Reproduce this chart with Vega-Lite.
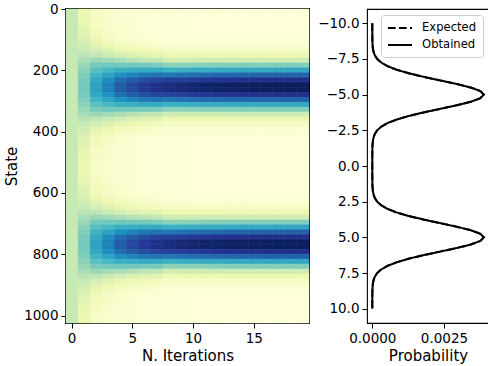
{
"$schema":"https://vega.github.io/schema/vega-lite/v6.json",
"padding":{"left":3,"top":1,"right":0,"bottom":0},
"spacing":6,
"resolve":{"scale":{"strokeDash":"independent","color":"independent","stroke":"independent"},"legend":{"strokeDash":"independent","color":"independent","stroke":"independent"}},
"config":{
"font":"DejaVu Sans",
"view":{"stroke":"#000000","strokeWidth":1.1},
"axis":{"domain":false,"grid":false,"ticks":true,"tickColor":"#000000","tickSize":5,"tickWidth":1,"labelColor":"#000000","labelFontSize":13.5,"labelPadding":3,"labelFlush":false,"labelOverlap":false,"titleColor":"#000000","titleFontSize":15,"titleFontWeight":"normal","titlePadding":4,"labelFont":"DejaVu Sans","titleFont":"DejaVu Sans"}
},
"datasets":{
"heat":[
{"it":0,"s0":0,"s1":1024,"p":0.000977},
{"it":1,"s0":0,"s1":32,"p":0.000503},{"it":1,"s0":32,"s1":64,"p":0.000562},{"it":1,"s0":64,"s1":96,"p":0.000664},
{"it":1,"s0":96,"s1":112,"p":0.000775},{"it":1,"s0":112,"s1":128,"p":0.000864},{"it":1,"s0":128,"s1":144,"p":0.000964},{"it":1,"s0":144,"s1":160,"p":0.001071},{"it":1,"s0":160,"s1":176,"p":0.001181},{"it":1,"s0":176,"s1":192,"p":0.001287},{"it":1,"s0":192,"s1":208,"p":0.001382},{"it":1,"s0":208,"s1":224,"p":0.001461},{"it":1,"s0":224,"s1":240,"p":0.001517},{"it":1,"s0":240,"s1":256,"p":0.001546},
{"it":1,"s0":256,"s1":272,"p":0.001546},{"it":1,"s0":272,"s1":288,"p":0.001517},{"it":1,"s0":288,"s1":304,"p":0.001461},{"it":1,"s0":304,"s1":320,"p":0.001382},{"it":1,"s0":320,"s1":336,"p":0.001287},{"it":1,"s0":336,"s1":352,"p":0.001181},{"it":1,"s0":352,"s1":368,"p":0.001071},{"it":1,"s0":368,"s1":384,"p":0.000964},{"it":1,"s0":384,"s1":400,"p":0.000864},{"it":1,"s0":400,"s1":416,"p":0.000775},
{"it":1,"s0":416,"s1":448,"p":0.000667},{"it":1,"s0":448,"s1":480,"p":0.00057},{"it":1,"s0":480,"s1":512,"p":0.000525},{"it":1,"s0":512,"s1":544,"p":0.000525},{"it":1,"s0":544,"s1":576,"p":0.00057},{"it":1,"s0":576,"s1":608,"p":0.000667},
{"it":1,"s0":608,"s1":624,"p":0.000775},{"it":1,"s0":624,"s1":640,"p":0.000864},{"it":1,"s0":640,"s1":656,"p":0.000964},{"it":1,"s0":656,"s1":672,"p":0.001071},{"it":1,"s0":672,"s1":688,"p":0.001181},{"it":1,"s0":688,"s1":704,"p":0.001287},{"it":1,"s0":704,"s1":720,"p":0.001382},{"it":1,"s0":720,"s1":736,"p":0.001461},{"it":1,"s0":736,"s1":752,"p":0.001517},{"it":1,"s0":752,"s1":768,"p":0.001546},
{"it":1,"s0":768,"s1":784,"p":0.001546},{"it":1,"s0":784,"s1":800,"p":0.001517},{"it":1,"s0":800,"s1":816,"p":0.001461},{"it":1,"s0":816,"s1":832,"p":0.001382},{"it":1,"s0":832,"s1":848,"p":0.001287},{"it":1,"s0":848,"s1":864,"p":0.001181},{"it":1,"s0":864,"s1":880,"p":0.001071},{"it":1,"s0":880,"s1":896,"p":0.000964},{"it":1,"s0":896,"s1":912,"p":0.000864},{"it":1,"s0":912,"s1":928,"p":0.000775},
{"it":1,"s0":928,"s1":960,"p":0.000664},{"it":1,"s0":960,"s1":992,"p":0.000562},{"it":1,"s0":992,"s1":1024,"p":0.000503},
{"it":2,"s0":0,"s1":32,"p":0.000235},{"it":2,"s0":32,"s1":64,"p":0.000271},{"it":2,"s0":64,"s1":96,"p":0.000366},
{"it":2,"s0":96,"s1":112,"p":0.000504},{"it":2,"s0":112,"s1":128,"p":0.000639},{"it":2,"s0":128,"s1":144,"p":0.000813},{"it":2,"s0":144,"s1":160,"p":0.001024},{"it":2,"s0":160,"s1":176,"p":0.001263},{"it":2,"s0":176,"s1":192,"p":0.001515},{"it":2,"s0":192,"s1":208,"p":0.001761},{"it":2,"s0":208,"s1":224,"p":0.001975},{"it":2,"s0":224,"s1":240,"p":0.002134},{"it":2,"s0":240,"s1":256,"p":0.002219},
{"it":2,"s0":256,"s1":272,"p":0.002219},{"it":2,"s0":272,"s1":288,"p":0.002134},{"it":2,"s0":288,"s1":304,"p":0.001975},{"it":2,"s0":304,"s1":320,"p":0.001761},{"it":2,"s0":320,"s1":336,"p":0.001515},{"it":2,"s0":336,"s1":352,"p":0.001263},{"it":2,"s0":352,"s1":368,"p":0.001024},{"it":2,"s0":368,"s1":384,"p":0.000813},{"it":2,"s0":384,"s1":400,"p":0.000639},{"it":2,"s0":400,"s1":416,"p":0.000504},
{"it":2,"s0":416,"s1":448,"p":0.000366},{"it":2,"s0":448,"s1":480,"p":0.000272},{"it":2,"s0":480,"s1":512,"p":0.000239},{"it":2,"s0":512,"s1":544,"p":0.000239},{"it":2,"s0":544,"s1":576,"p":0.000272},{"it":2,"s0":576,"s1":608,"p":0.000366},
{"it":2,"s0":608,"s1":624,"p":0.000504},{"it":2,"s0":624,"s1":640,"p":0.000639},{"it":2,"s0":640,"s1":656,"p":0.000813},{"it":2,"s0":656,"s1":672,"p":0.001024},{"it":2,"s0":672,"s1":688,"p":0.001263},{"it":2,"s0":688,"s1":704,"p":0.001515},{"it":2,"s0":704,"s1":720,"p":0.001761},{"it":2,"s0":720,"s1":736,"p":0.001975},{"it":2,"s0":736,"s1":752,"p":0.002134},{"it":2,"s0":752,"s1":768,"p":0.002219},
{"it":2,"s0":768,"s1":784,"p":0.002219},{"it":2,"s0":784,"s1":800,"p":0.002134},{"it":2,"s0":800,"s1":816,"p":0.001975},{"it":2,"s0":816,"s1":832,"p":0.001761},{"it":2,"s0":832,"s1":848,"p":0.001515},{"it":2,"s0":848,"s1":864,"p":0.001263},{"it":2,"s0":864,"s1":880,"p":0.001024},{"it":2,"s0":880,"s1":896,"p":0.000813},{"it":2,"s0":896,"s1":912,"p":0.000639},{"it":2,"s0":912,"s1":928,"p":0.000504},
{"it":2,"s0":928,"s1":960,"p":0.000366},{"it":2,"s0":960,"s1":992,"p":0.000271},{"it":2,"s0":992,"s1":1024,"p":0.000235},
{"it":3,"s0":0,"s1":32,"p":0.000156},{"it":3,"s0":32,"s1":64,"p":0.000176},{"it":3,"s0":64,"s1":96,"p":0.000245},
{"it":3,"s0":96,"s1":112,"p":0.000367},{"it":3,"s0":112,"s1":128,"p":0.000502},{"it":3,"s0":128,"s1":144,"p":0.000691},{"it":3,"s0":144,"s1":160,"p":0.000937},{"it":3,"s0":160,"s1":176,"p":0.001235},{"it":3,"s0":176,"s1":192,"p":0.001568},{"it":3,"s0":192,"s1":208,"p":0.001908},{"it":3,"s0":208,"s1":224,"p":0.002214},{"it":3,"s0":224,"s1":240,"p":0.002447},{"it":3,"s0":240,"s1":256,"p":0.002574},
{"it":3,"s0":256,"s1":272,"p":0.002574},{"it":3,"s0":272,"s1":288,"p":0.002447},{"it":3,"s0":288,"s1":304,"p":0.002214},{"it":3,"s0":304,"s1":320,"p":0.001908},{"it":3,"s0":320,"s1":336,"p":0.001568},{"it":3,"s0":336,"s1":352,"p":0.001235},{"it":3,"s0":352,"s1":368,"p":0.000937},{"it":3,"s0":368,"s1":384,"p":0.000691},{"it":3,"s0":384,"s1":400,"p":0.000502},{"it":3,"s0":400,"s1":416,"p":0.000367},
{"it":3,"s0":416,"s1":448,"p":0.000245},{"it":3,"s0":448,"s1":480,"p":0.000177},{"it":3,"s0":480,"s1":512,"p":0.000157},{"it":3,"s0":512,"s1":544,"p":0.000157},{"it":3,"s0":544,"s1":576,"p":0.000177},{"it":3,"s0":576,"s1":608,"p":0.000245},
{"it":3,"s0":608,"s1":624,"p":0.000367},{"it":3,"s0":624,"s1":640,"p":0.000502},{"it":3,"s0":640,"s1":656,"p":0.000691},{"it":3,"s0":656,"s1":672,"p":0.000937},{"it":3,"s0":672,"s1":688,"p":0.001235},{"it":3,"s0":688,"s1":704,"p":0.001568},{"it":3,"s0":704,"s1":720,"p":0.001908},{"it":3,"s0":720,"s1":736,"p":0.002214},{"it":3,"s0":736,"s1":752,"p":0.002447},{"it":3,"s0":752,"s1":768,"p":0.002574},
{"it":3,"s0":768,"s1":784,"p":0.002574},{"it":3,"s0":784,"s1":800,"p":0.002447},{"it":3,"s0":800,"s1":816,"p":0.002214},{"it":3,"s0":816,"s1":832,"p":0.001908},{"it":3,"s0":832,"s1":848,"p":0.001568},{"it":3,"s0":848,"s1":864,"p":0.001235},{"it":3,"s0":864,"s1":880,"p":0.000937},{"it":3,"s0":880,"s1":896,"p":0.000691},{"it":3,"s0":896,"s1":912,"p":0.000502},{"it":3,"s0":912,"s1":928,"p":0.000367},
{"it":3,"s0":928,"s1":960,"p":0.000245},{"it":3,"s0":960,"s1":992,"p":0.000176},{"it":3,"s0":992,"s1":1024,"p":0.000156},
{"it":4,"s0":0,"s1":32,"p":0.000102},{"it":4,"s0":32,"s1":64,"p":0.000111},{"it":4,"s0":64,"s1":96,"p":0.000154},
{"it":4,"s0":96,"s1":112,"p":0.000249},{"it":4,"s0":112,"s1":128,"p":0.000368},{"it":4,"s0":128,"s1":144,"p":0.000553},{"it":4,"s0":144,"s1":160,"p":0.000818},{"it":4,"s0":160,"s1":176,"p":0.001164},{"it":4,"s0":176,"s1":192,"p":0.001577},{"it":4,"s0":192,"s1":208,"p":0.002021},{"it":4,"s0":208,"s1":224,"p":0.002438},{"it":4,"s0":224,"s1":240,"p":0.002766},{"it":4,"s0":240,"s1":256,"p":0.002946},
{"it":4,"s0":256,"s1":272,"p":0.002946},{"it":4,"s0":272,"s1":288,"p":0.002766},{"it":4,"s0":288,"s1":304,"p":0.002438},{"it":4,"s0":304,"s1":320,"p":0.002021},{"it":4,"s0":320,"s1":336,"p":0.001577},{"it":4,"s0":336,"s1":352,"p":0.001164},{"it":4,"s0":352,"s1":368,"p":0.000818},{"it":4,"s0":368,"s1":384,"p":0.000553},{"it":4,"s0":384,"s1":400,"p":0.000368},{"it":4,"s0":400,"s1":416,"p":0.000249},
{"it":4,"s0":416,"s1":448,"p":0.000154},{"it":4,"s0":448,"s1":480,"p":0.000111},{"it":4,"s0":480,"s1":512,"p":0.000102},{"it":4,"s0":512,"s1":544,"p":0.000102},{"it":4,"s0":544,"s1":576,"p":0.000111},{"it":4,"s0":576,"s1":608,"p":0.000154},
{"it":4,"s0":608,"s1":624,"p":0.000249},{"it":4,"s0":624,"s1":640,"p":0.000368},{"it":4,"s0":640,"s1":656,"p":0.000553},{"it":4,"s0":656,"s1":672,"p":0.000818},{"it":4,"s0":672,"s1":688,"p":0.001164},{"it":4,"s0":688,"s1":704,"p":0.001577},{"it":4,"s0":704,"s1":720,"p":0.002021},{"it":4,"s0":720,"s1":736,"p":0.002438},{"it":4,"s0":736,"s1":752,"p":0.002766},{"it":4,"s0":752,"s1":768,"p":0.002946},
{"it":4,"s0":768,"s1":784,"p":0.002946},{"it":4,"s0":784,"s1":800,"p":0.002766},{"it":4,"s0":800,"s1":816,"p":0.002438},{"it":4,"s0":816,"s1":832,"p":0.002021},{"it":4,"s0":832,"s1":848,"p":0.001577},{"it":4,"s0":848,"s1":864,"p":0.001164},{"it":4,"s0":864,"s1":880,"p":0.000818},{"it":4,"s0":880,"s1":896,"p":0.000553},{"it":4,"s0":896,"s1":912,"p":0.000368},{"it":4,"s0":912,"s1":928,"p":0.000249},
{"it":4,"s0":928,"s1":960,"p":0.000154},{"it":4,"s0":960,"s1":992,"p":0.000111},{"it":4,"s0":992,"s1":1024,"p":0.000102},
{"it":5,"s0":0,"s1":96,"p":0.00008},
{"it":5,"s0":96,"s1":112,"p":0.000182},{"it":5,"s0":112,"s1":128,"p":0.000288},{"it":5,"s0":128,"s1":144,"p":0.000463},{"it":5,"s0":144,"s1":160,"p":0.00073},{"it":5,"s0":160,"s1":176,"p":0.001098},{"it":5,"s0":176,"s1":192,"p":0.001557},{"it":5,"s0":192,"s1":208,"p":0.002068},{"it":5,"s0":208,"s1":224,"p":0.002563},{"it":5,"s0":224,"s1":240,"p":0.002959},{"it":5,"s0":240,"s1":256,"p":0.003181},
{"it":5,"s0":256,"s1":272,"p":0.003181},{"it":5,"s0":272,"s1":288,"p":0.002959},{"it":5,"s0":288,"s1":304,"p":0.002563},{"it":5,"s0":304,"s1":320,"p":0.002068},{"it":5,"s0":320,"s1":336,"p":0.001557},{"it":5,"s0":336,"s1":352,"p":0.001098},{"it":5,"s0":352,"s1":368,"p":0.00073},{"it":5,"s0":368,"s1":384,"p":0.000463},{"it":5,"s0":384,"s1":400,"p":0.000288},{"it":5,"s0":400,"s1":416,"p":0.000182},
{"it":5,"s0":416,"s1":608,"p":0.00008},
{"it":5,"s0":608,"s1":624,"p":0.000182},{"it":5,"s0":624,"s1":640,"p":0.000288},{"it":5,"s0":640,"s1":656,"p":0.000463},{"it":5,"s0":656,"s1":672,"p":0.00073},{"it":5,"s0":672,"s1":688,"p":0.001098},{"it":5,"s0":688,"s1":704,"p":0.001557},{"it":5,"s0":704,"s1":720,"p":0.002068},{"it":5,"s0":720,"s1":736,"p":0.002563},{"it":5,"s0":736,"s1":752,"p":0.002959},{"it":5,"s0":752,"s1":768,"p":0.003181},
{"it":5,"s0":768,"s1":784,"p":0.003181},{"it":5,"s0":784,"s1":800,"p":0.002959},{"it":5,"s0":800,"s1":816,"p":0.002563},{"it":5,"s0":816,"s1":832,"p":0.002068},{"it":5,"s0":832,"s1":848,"p":0.001557},{"it":5,"s0":848,"s1":864,"p":0.001098},{"it":5,"s0":864,"s1":880,"p":0.00073},{"it":5,"s0":880,"s1":896,"p":0.000463},{"it":5,"s0":896,"s1":912,"p":0.000288},{"it":5,"s0":912,"s1":928,"p":0.000182},
{"it":5,"s0":928,"s1":1024,"p":0.00008},
{"it":6,"s0":0,"s1":96,"p":0.00005},
{"it":6,"s0":96,"s1":112,"p":0.000138},{"it":6,"s0":112,"s1":128,"p":0.000232},{"it":6,"s0":128,"s1":144,"p":0.000397},{"it":6,"s0":144,"s1":160,"p":0.000661},{"it":6,"s0":160,"s1":176,"p":0.001041},{"it":6,"s0":176,"s1":192,"p":0.001534},{"it":6,"s0":192,"s1":208,"p":0.0021},{"it":6,"s0":208,"s1":224,"p":0.002661},{"it":6,"s0":224,"s1":240,"p":0.003118},{"it":6,"s0":240,"s1":256,"p":0.003376},
{"it":6,"s0":256,"s1":272,"p":0.003376},{"it":6,"s0":272,"s1":288,"p":0.003118},{"it":6,"s0":288,"s1":304,"p":0.002661},{"it":6,"s0":304,"s1":320,"p":0.0021},{"it":6,"s0":320,"s1":336,"p":0.001534},{"it":6,"s0":336,"s1":352,"p":0.001041},{"it":6,"s0":352,"s1":368,"p":0.000661},{"it":6,"s0":368,"s1":384,"p":0.000397},{"it":6,"s0":384,"s1":400,"p":0.000232},{"it":6,"s0":400,"s1":416,"p":0.000138},
{"it":6,"s0":416,"s1":608,"p":0.00005},
{"it":6,"s0":608,"s1":624,"p":0.000138},{"it":6,"s0":624,"s1":640,"p":0.000232},{"it":6,"s0":640,"s1":656,"p":0.000397},{"it":6,"s0":656,"s1":672,"p":0.000661},{"it":6,"s0":672,"s1":688,"p":0.001041},{"it":6,"s0":688,"s1":704,"p":0.001534},{"it":6,"s0":704,"s1":720,"p":0.0021},{"it":6,"s0":720,"s1":736,"p":0.002661},{"it":6,"s0":736,"s1":752,"p":0.003118},{"it":6,"s0":752,"s1":768,"p":0.003376},
{"it":6,"s0":768,"s1":784,"p":0.003376},{"it":6,"s0":784,"s1":800,"p":0.003118},{"it":6,"s0":800,"s1":816,"p":0.002661},{"it":6,"s0":816,"s1":832,"p":0.0021},{"it":6,"s0":832,"s1":848,"p":0.001534},{"it":6,"s0":848,"s1":864,"p":0.001041},{"it":6,"s0":864,"s1":880,"p":0.000661},{"it":6,"s0":880,"s1":896,"p":0.000397},{"it":6,"s0":896,"s1":912,"p":0.000232},{"it":6,"s0":912,"s1":928,"p":0.000138},
{"it":6,"s0":928,"s1":1024,"p":0.00005},
{"it":7,"s0":0,"s1":96,"p":0.00004},
{"it":7,"s0":96,"s1":112,"p":0.000114},{"it":7,"s0":112,"s1":128,"p":0.0002},{"it":7,"s0":128,"s1":144,"p":0.000357},{"it":7,"s0":144,"s1":160,"p":0.000616},{"it":7,"s0":160,"s1":176,"p":0.001001},{"it":7,"s0":176,"s1":192,"p":0.001512},{"it":7,"s0":192,"s1":208,"p":0.00211},{"it":7,"s0":208,"s1":224,"p":0.002714},{"it":7,"s0":224,"s1":240,"p":0.00321},{"it":7,"s0":240,"s1":256,"p":0.003493},
{"it":7,"s0":256,"s1":272,"p":0.003493},{"it":7,"s0":272,"s1":288,"p":0.00321},{"it":7,"s0":288,"s1":304,"p":0.002714},{"it":7,"s0":304,"s1":320,"p":0.00211},{"it":7,"s0":320,"s1":336,"p":0.001512},{"it":7,"s0":336,"s1":352,"p":0.001001},{"it":7,"s0":352,"s1":368,"p":0.000616},{"it":7,"s0":368,"s1":384,"p":0.000357},{"it":7,"s0":384,"s1":400,"p":0.0002},{"it":7,"s0":400,"s1":416,"p":0.000114},
{"it":7,"s0":416,"s1":608,"p":0.00004},
{"it":7,"s0":608,"s1":624,"p":0.000114},{"it":7,"s0":624,"s1":640,"p":0.0002},{"it":7,"s0":640,"s1":656,"p":0.000357},{"it":7,"s0":656,"s1":672,"p":0.000616},{"it":7,"s0":672,"s1":688,"p":0.001001},{"it":7,"s0":688,"s1":704,"p":0.001512},{"it":7,"s0":704,"s1":720,"p":0.00211},{"it":7,"s0":720,"s1":736,"p":0.002714},{"it":7,"s0":736,"s1":752,"p":0.00321},{"it":7,"s0":752,"s1":768,"p":0.003493},
{"it":7,"s0":768,"s1":784,"p":0.003493},{"it":7,"s0":784,"s1":800,"p":0.00321},{"it":7,"s0":800,"s1":816,"p":0.002714},{"it":7,"s0":816,"s1":832,"p":0.00211},{"it":7,"s0":832,"s1":848,"p":0.001512},{"it":7,"s0":848,"s1":864,"p":0.001001},{"it":7,"s0":864,"s1":880,"p":0.000616},{"it":7,"s0":880,"s1":896,"p":0.000357},{"it":7,"s0":896,"s1":912,"p":0.0002},{"it":7,"s0":912,"s1":928,"p":0.000114},
{"it":7,"s0":928,"s1":1024,"p":0.00004},
{"it":8,"s0":0,"s1":96,"p":0.00003},
{"it":8,"s0":96,"s1":112,"p":0.000074},{"it":8,"s0":112,"s1":128,"p":0.000136},{"it":8,"s0":128,"s1":144,"p":0.000261},{"it":8,"s0":144,"s1":160,"p":0.000488},{"it":8,"s0":160,"s1":176,"p":0.000852},{"it":8,"s0":176,"s1":192,"p":0.00137},{"it":8,"s0":192,"s1":208,"p":0.00201},{"it":8,"s0":208,"s1":224,"p":0.002684},{"it":8,"s0":224,"s1":240,"p":0.003255},{"it":8,"s0":240,"s1":256,"p":0.003586},
{"it":8,"s0":256,"s1":272,"p":0.003586},{"it":8,"s0":272,"s1":288,"p":0.003255},{"it":8,"s0":288,"s1":304,"p":0.002684},{"it":8,"s0":304,"s1":320,"p":0.00201},{"it":8,"s0":320,"s1":336,"p":0.00137},{"it":8,"s0":336,"s1":352,"p":0.000852},{"it":8,"s0":352,"s1":368,"p":0.000488},{"it":8,"s0":368,"s1":384,"p":0.000261},{"it":8,"s0":384,"s1":400,"p":0.000136},{"it":8,"s0":400,"s1":416,"p":0.000074},
{"it":8,"s0":416,"s1":608,"p":0.00003},
{"it":8,"s0":608,"s1":624,"p":0.000074},{"it":8,"s0":624,"s1":640,"p":0.000136},{"it":8,"s0":640,"s1":656,"p":0.000261},{"it":8,"s0":656,"s1":672,"p":0.000488},{"it":8,"s0":672,"s1":688,"p":0.000852},{"it":8,"s0":688,"s1":704,"p":0.00137},{"it":8,"s0":704,"s1":720,"p":0.00201},{"it":8,"s0":720,"s1":736,"p":0.002684},{"it":8,"s0":736,"s1":752,"p":0.003255},{"it":8,"s0":752,"s1":768,"p":0.003586},
{"it":8,"s0":768,"s1":784,"p":0.003586},{"it":8,"s0":784,"s1":800,"p":0.003255},{"it":8,"s0":800,"s1":816,"p":0.002684},{"it":8,"s0":816,"s1":832,"p":0.00201},{"it":8,"s0":832,"s1":848,"p":0.00137},{"it":8,"s0":848,"s1":864,"p":0.000852},{"it":8,"s0":864,"s1":880,"p":0.000488},{"it":8,"s0":880,"s1":896,"p":0.000261},{"it":8,"s0":896,"s1":912,"p":0.000136},{"it":8,"s0":912,"s1":928,"p":0.000074},
{"it":8,"s0":928,"s1":1024,"p":0.00003},
{"it":9,"s0":0,"s1":96,"p":0.00002},
{"it":9,"s0":96,"s1":112,"p":0.000065},{"it":9,"s0":112,"s1":128,"p":0.000128},{"it":9,"s0":128,"s1":144,"p":0.000256},{"it":9,"s0":144,"s1":160,"p":0.000486},{"it":9,"s0":160,"s1":176,"p":0.000858},{"it":9,"s0":176,"s1":192,"p":0.001386},{"it":9,"s0":192,"s1":208,"p":0.002038},{"it":9,"s0":208,"s1":224,"p":0.002725},{"it":9,"s0":224,"s1":240,"p":0.003308},{"it":9,"s0":240,"s1":256,"p":0.003646},
{"it":9,"s0":256,"s1":272,"p":0.003646},{"it":9,"s0":272,"s1":288,"p":0.003308},{"it":9,"s0":288,"s1":304,"p":0.002725},{"it":9,"s0":304,"s1":320,"p":0.002038},{"it":9,"s0":320,"s1":336,"p":0.001386},{"it":9,"s0":336,"s1":352,"p":0.000858},{"it":9,"s0":352,"s1":368,"p":0.000486},{"it":9,"s0":368,"s1":384,"p":0.000256},{"it":9,"s0":384,"s1":400,"p":0.000128},{"it":9,"s0":400,"s1":416,"p":0.000065},
{"it":9,"s0":416,"s1":608,"p":0.00002},
{"it":9,"s0":608,"s1":624,"p":0.000065},{"it":9,"s0":624,"s1":640,"p":0.000128},{"it":9,"s0":640,"s1":656,"p":0.000256},{"it":9,"s0":656,"s1":672,"p":0.000486},{"it":9,"s0":672,"s1":688,"p":0.000858},{"it":9,"s0":688,"s1":704,"p":0.001386},{"it":9,"s0":704,"s1":720,"p":0.002038},{"it":9,"s0":720,"s1":736,"p":0.002725},{"it":9,"s0":736,"s1":752,"p":0.003308},{"it":9,"s0":752,"s1":768,"p":0.003646},
{"it":9,"s0":768,"s1":784,"p":0.003646},{"it":9,"s0":784,"s1":800,"p":0.003308},{"it":9,"s0":800,"s1":816,"p":0.002725},{"it":9,"s0":816,"s1":832,"p":0.002038},{"it":9,"s0":832,"s1":848,"p":0.001386},{"it":9,"s0":848,"s1":864,"p":0.000858},{"it":9,"s0":864,"s1":880,"p":0.000486},{"it":9,"s0":880,"s1":896,"p":0.000256},{"it":9,"s0":896,"s1":912,"p":0.000128},{"it":9,"s0":912,"s1":928,"p":0.000065},
{"it":9,"s0":928,"s1":1024,"p":0.00002},
{"it":10,"s0":0,"s1":96,"p":0.000015},
{"it":10,"s0":96,"s1":112,"p":0.000061},{"it":10,"s0":112,"s1":128,"p":0.000125},{"it":10,"s0":128,"s1":144,"p":0.000254},{"it":10,"s0":144,"s1":160,"p":0.000489},{"it":10,"s0":160,"s1":176,"p":0.000867},{"it":10,"s0":176,"s1":192,"p":0.001403},{"it":10,"s0":192,"s1":208,"p":0.002066},{"it":10,"s0":208,"s1":224,"p":0.002764},{"it":10,"s0":224,"s1":240,"p":0.003356},{"it":10,"s0":240,"s1":256,"p":0.0037},
{"it":10,"s0":256,"s1":272,"p":0.0037},{"it":10,"s0":272,"s1":288,"p":0.003356},{"it":10,"s0":288,"s1":304,"p":0.002764},{"it":10,"s0":304,"s1":320,"p":0.002066},{"it":10,"s0":320,"s1":336,"p":0.001403},{"it":10,"s0":336,"s1":352,"p":0.000867},{"it":10,"s0":352,"s1":368,"p":0.000489},{"it":10,"s0":368,"s1":384,"p":0.000254},{"it":10,"s0":384,"s1":400,"p":0.000125},{"it":10,"s0":400,"s1":416,"p":0.000061},
{"it":10,"s0":416,"s1":608,"p":0.000015},
{"it":10,"s0":608,"s1":624,"p":0.000061},{"it":10,"s0":624,"s1":640,"p":0.000125},{"it":10,"s0":640,"s1":656,"p":0.000254},{"it":10,"s0":656,"s1":672,"p":0.000489},{"it":10,"s0":672,"s1":688,"p":0.000867},{"it":10,"s0":688,"s1":704,"p":0.001403},{"it":10,"s0":704,"s1":720,"p":0.002066},{"it":10,"s0":720,"s1":736,"p":0.002764},{"it":10,"s0":736,"s1":752,"p":0.003356},{"it":10,"s0":752,"s1":768,"p":0.0037},
{"it":10,"s0":768,"s1":784,"p":0.0037},{"it":10,"s0":784,"s1":800,"p":0.003356},{"it":10,"s0":800,"s1":816,"p":0.002764},{"it":10,"s0":816,"s1":832,"p":0.002066},{"it":10,"s0":832,"s1":848,"p":0.001403},{"it":10,"s0":848,"s1":864,"p":0.000867},{"it":10,"s0":864,"s1":880,"p":0.000489},{"it":10,"s0":880,"s1":896,"p":0.000254},{"it":10,"s0":896,"s1":912,"p":0.000125},{"it":10,"s0":912,"s1":928,"p":0.000061},
{"it":10,"s0":928,"s1":1024,"p":0.000015},
{"it":11,"s0":0,"s1":96,"p":0.00001},
{"it":11,"s0":96,"s1":112,"p":0.000056},{"it":11,"s0":112,"s1":128,"p":0.000121},{"it":11,"s0":128,"s1":144,"p":0.000253},{"it":11,"s0":144,"s1":160,"p":0.00049},{"it":11,"s0":160,"s1":176,"p":0.000873},{"it":11,"s0":176,"s1":192,"p":0.001417},{"it":11,"s0":192,"s1":208,"p":0.002089},{"it":11,"s0":208,"s1":224,"p":0.002796},{"it":11,"s0":224,"s1":240,"p":0.003396},{"it":11,"s0":240,"s1":256,"p":0.003744},
{"it":11,"s0":256,"s1":272,"p":0.003744},{"it":11,"s0":272,"s1":288,"p":0.003396},{"it":11,"s0":288,"s1":304,"p":0.002796},{"it":11,"s0":304,"s1":320,"p":0.002089},{"it":11,"s0":320,"s1":336,"p":0.001417},{"it":11,"s0":336,"s1":352,"p":0.000873},{"it":11,"s0":352,"s1":368,"p":0.00049},{"it":11,"s0":368,"s1":384,"p":0.000253},{"it":11,"s0":384,"s1":400,"p":0.000121},{"it":11,"s0":400,"s1":416,"p":0.000056},
{"it":11,"s0":416,"s1":608,"p":0.00001},
{"it":11,"s0":608,"s1":624,"p":0.000056},{"it":11,"s0":624,"s1":640,"p":0.000121},{"it":11,"s0":640,"s1":656,"p":0.000253},{"it":11,"s0":656,"s1":672,"p":0.00049},{"it":11,"s0":672,"s1":688,"p":0.000873},{"it":11,"s0":688,"s1":704,"p":0.001417},{"it":11,"s0":704,"s1":720,"p":0.002089},{"it":11,"s0":720,"s1":736,"p":0.002796},{"it":11,"s0":736,"s1":752,"p":0.003396},{"it":11,"s0":752,"s1":768,"p":0.003744},
{"it":11,"s0":768,"s1":784,"p":0.003744},{"it":11,"s0":784,"s1":800,"p":0.003396},{"it":11,"s0":800,"s1":816,"p":0.002796},{"it":11,"s0":816,"s1":832,"p":0.002089},{"it":11,"s0":832,"s1":848,"p":0.001417},{"it":11,"s0":848,"s1":864,"p":0.000873},{"it":11,"s0":864,"s1":880,"p":0.00049},{"it":11,"s0":880,"s1":896,"p":0.000253},{"it":11,"s0":896,"s1":912,"p":0.000121},{"it":11,"s0":912,"s1":928,"p":0.000056},
{"it":11,"s0":928,"s1":1024,"p":0.00001},
{"it":12,"s0":0,"s1":96,"p":0.000008},
{"it":12,"s0":96,"s1":112,"p":0.000054},{"it":12,"s0":112,"s1":128,"p":0.00012},{"it":12,"s0":128,"s1":144,"p":0.000253},{"it":12,"s0":144,"s1":160,"p":0.000492},{"it":12,"s0":160,"s1":176,"p":0.000878},{"it":12,"s0":176,"s1":192,"p":0.001426},{"it":12,"s0":192,"s1":208,"p":0.002103},{"it":12,"s0":208,"s1":224,"p":0.002816},{"it":12,"s0":224,"s1":240,"p":0.003421},{"it":12,"s0":240,"s1":256,"p":0.003772},
{"it":12,"s0":256,"s1":272,"p":0.003772},{"it":12,"s0":272,"s1":288,"p":0.003421},{"it":12,"s0":288,"s1":304,"p":0.002816},{"it":12,"s0":304,"s1":320,"p":0.002103},{"it":12,"s0":320,"s1":336,"p":0.001426},{"it":12,"s0":336,"s1":352,"p":0.000878},{"it":12,"s0":352,"s1":368,"p":0.000492},{"it":12,"s0":368,"s1":384,"p":0.000253},{"it":12,"s0":384,"s1":400,"p":0.00012},{"it":12,"s0":400,"s1":416,"p":0.000054},
{"it":12,"s0":416,"s1":608,"p":0.000008},
{"it":12,"s0":608,"s1":624,"p":0.000054},{"it":12,"s0":624,"s1":640,"p":0.00012},{"it":12,"s0":640,"s1":656,"p":0.000253},{"it":12,"s0":656,"s1":672,"p":0.000492},{"it":12,"s0":672,"s1":688,"p":0.000878},{"it":12,"s0":688,"s1":704,"p":0.001426},{"it":12,"s0":704,"s1":720,"p":0.002103},{"it":12,"s0":720,"s1":736,"p":0.002816},{"it":12,"s0":736,"s1":752,"p":0.003421},{"it":12,"s0":752,"s1":768,"p":0.003772},
{"it":12,"s0":768,"s1":784,"p":0.003772},{"it":12,"s0":784,"s1":800,"p":0.003421},{"it":12,"s0":800,"s1":816,"p":0.002816},{"it":12,"s0":816,"s1":832,"p":0.002103},{"it":12,"s0":832,"s1":848,"p":0.001426},{"it":12,"s0":848,"s1":864,"p":0.000878},{"it":12,"s0":864,"s1":880,"p":0.000492},{"it":12,"s0":880,"s1":896,"p":0.000253},{"it":12,"s0":896,"s1":912,"p":0.00012},{"it":12,"s0":912,"s1":928,"p":0.000054},
{"it":12,"s0":928,"s1":1024,"p":0.000008},
{"it":13,"s0":0,"s1":96,"p":0.000006},
{"it":13,"s0":96,"s1":112,"p":0.000053},{"it":13,"s0":112,"s1":128,"p":0.000119},{"it":13,"s0":128,"s1":144,"p":0.000253},{"it":13,"s0":144,"s1":160,"p":0.000494},{"it":13,"s0":160,"s1":176,"p":0.000883},{"it":13,"s0":176,"s1":192,"p":0.001435},{"it":13,"s0":192,"s1":208,"p":0.002118},{"it":13,"s0":208,"s1":224,"p":0.002836},{"it":13,"s0":224,"s1":240,"p":0.003446},{"it":13,"s0":240,"s1":256,"p":0.0038},
{"it":13,"s0":256,"s1":272,"p":0.0038},{"it":13,"s0":272,"s1":288,"p":0.003446},{"it":13,"s0":288,"s1":304,"p":0.002836},{"it":13,"s0":304,"s1":320,"p":0.002118},{"it":13,"s0":320,"s1":336,"p":0.001435},{"it":13,"s0":336,"s1":352,"p":0.000883},{"it":13,"s0":352,"s1":368,"p":0.000494},{"it":13,"s0":368,"s1":384,"p":0.000253},{"it":13,"s0":384,"s1":400,"p":0.000119},{"it":13,"s0":400,"s1":416,"p":0.000053},
{"it":13,"s0":416,"s1":608,"p":0.000006},
{"it":13,"s0":608,"s1":624,"p":0.000053},{"it":13,"s0":624,"s1":640,"p":0.000119},{"it":13,"s0":640,"s1":656,"p":0.000253},{"it":13,"s0":656,"s1":672,"p":0.000494},{"it":13,"s0":672,"s1":688,"p":0.000883},{"it":13,"s0":688,"s1":704,"p":0.001435},{"it":13,"s0":704,"s1":720,"p":0.002118},{"it":13,"s0":720,"s1":736,"p":0.002836},{"it":13,"s0":736,"s1":752,"p":0.003446},{"it":13,"s0":752,"s1":768,"p":0.0038},
{"it":13,"s0":768,"s1":784,"p":0.0038},{"it":13,"s0":784,"s1":800,"p":0.003446},{"it":13,"s0":800,"s1":816,"p":0.002836},{"it":13,"s0":816,"s1":832,"p":0.002118},{"it":13,"s0":832,"s1":848,"p":0.001435},{"it":13,"s0":848,"s1":864,"p":0.000883},{"it":13,"s0":864,"s1":880,"p":0.000494},{"it":13,"s0":880,"s1":896,"p":0.000253},{"it":13,"s0":896,"s1":912,"p":0.000119},{"it":13,"s0":912,"s1":928,"p":0.000053},
{"it":13,"s0":928,"s1":1024,"p":0.000006},
{"it":14,"s0":0,"s1":96,"p":0.000004},
{"it":14,"s0":96,"s1":112,"p":0.000051},{"it":14,"s0":112,"s1":128,"p":0.000117},{"it":14,"s0":128,"s1":144,"p":0.000252},{"it":14,"s0":144,"s1":160,"p":0.000495},{"it":14,"s0":160,"s1":176,"p":0.000885},{"it":14,"s0":176,"s1":192,"p":0.00144},{"it":14,"s0":192,"s1":208,"p":0.002127},{"it":14,"s0":208,"s1":224,"p":0.002849},{"it":14,"s0":224,"s1":240,"p":0.003462},{"it":14,"s0":240,"s1":256,"p":0.003817},
{"it":14,"s0":256,"s1":272,"p":0.003817},{"it":14,"s0":272,"s1":288,"p":0.003462},{"it":14,"s0":288,"s1":304,"p":0.002849},{"it":14,"s0":304,"s1":320,"p":0.002127},{"it":14,"s0":320,"s1":336,"p":0.00144},{"it":14,"s0":336,"s1":352,"p":0.000885},{"it":14,"s0":352,"s1":368,"p":0.000495},{"it":14,"s0":368,"s1":384,"p":0.000252},{"it":14,"s0":384,"s1":400,"p":0.000117},{"it":14,"s0":400,"s1":416,"p":0.000051},
{"it":14,"s0":416,"s1":608,"p":0.000004},
{"it":14,"s0":608,"s1":624,"p":0.000051},{"it":14,"s0":624,"s1":640,"p":0.000117},{"it":14,"s0":640,"s1":656,"p":0.000252},{"it":14,"s0":656,"s1":672,"p":0.000495},{"it":14,"s0":672,"s1":688,"p":0.000885},{"it":14,"s0":688,"s1":704,"p":0.00144},{"it":14,"s0":704,"s1":720,"p":0.002127},{"it":14,"s0":720,"s1":736,"p":0.002849},{"it":14,"s0":736,"s1":752,"p":0.003462},{"it":14,"s0":752,"s1":768,"p":0.003817},
{"it":14,"s0":768,"s1":784,"p":0.003817},{"it":14,"s0":784,"s1":800,"p":0.003462},{"it":14,"s0":800,"s1":816,"p":0.002849},{"it":14,"s0":816,"s1":832,"p":0.002127},{"it":14,"s0":832,"s1":848,"p":0.00144},{"it":14,"s0":848,"s1":864,"p":0.000885},{"it":14,"s0":864,"s1":880,"p":0.000495},{"it":14,"s0":880,"s1":896,"p":0.000252},{"it":14,"s0":896,"s1":912,"p":0.000117},{"it":14,"s0":912,"s1":928,"p":0.000051},
{"it":14,"s0":928,"s1":1024,"p":0.000004},
{"it":15,"s0":0,"s1":96,"p":0.000003},
{"it":15,"s0":96,"s1":112,"p":0.00005},{"it":15,"s0":112,"s1":128,"p":0.000117},{"it":15,"s0":128,"s1":144,"p":0.000251},{"it":15,"s0":144,"s1":160,"p":0.000495},{"it":15,"s0":160,"s1":176,"p":0.000887},{"it":15,"s0":176,"s1":192,"p":0.001443},{"it":15,"s0":192,"s1":208,"p":0.002131},{"it":15,"s0":208,"s1":224,"p":0.002856},{"it":15,"s0":224,"s1":240,"p":0.00347},{"it":15,"s0":240,"s1":256,"p":0.003826},
{"it":15,"s0":256,"s1":272,"p":0.003826},{"it":15,"s0":272,"s1":288,"p":0.00347},{"it":15,"s0":288,"s1":304,"p":0.002856},{"it":15,"s0":304,"s1":320,"p":0.002131},{"it":15,"s0":320,"s1":336,"p":0.001443},{"it":15,"s0":336,"s1":352,"p":0.000887},{"it":15,"s0":352,"s1":368,"p":0.000495},{"it":15,"s0":368,"s1":384,"p":0.000251},{"it":15,"s0":384,"s1":400,"p":0.000117},{"it":15,"s0":400,"s1":416,"p":0.00005},
{"it":15,"s0":416,"s1":608,"p":0.000003},
{"it":15,"s0":608,"s1":624,"p":0.00005},{"it":15,"s0":624,"s1":640,"p":0.000117},{"it":15,"s0":640,"s1":656,"p":0.000251},{"it":15,"s0":656,"s1":672,"p":0.000495},{"it":15,"s0":672,"s1":688,"p":0.000887},{"it":15,"s0":688,"s1":704,"p":0.001443},{"it":15,"s0":704,"s1":720,"p":0.002131},{"it":15,"s0":720,"s1":736,"p":0.002856},{"it":15,"s0":736,"s1":752,"p":0.00347},{"it":15,"s0":752,"s1":768,"p":0.003826},
{"it":15,"s0":768,"s1":784,"p":0.003826},{"it":15,"s0":784,"s1":800,"p":0.00347},{"it":15,"s0":800,"s1":816,"p":0.002856},{"it":15,"s0":816,"s1":832,"p":0.002131},{"it":15,"s0":832,"s1":848,"p":0.001443},{"it":15,"s0":848,"s1":864,"p":0.000887},{"it":15,"s0":864,"s1":880,"p":0.000495},{"it":15,"s0":880,"s1":896,"p":0.000251},{"it":15,"s0":896,"s1":912,"p":0.000117},{"it":15,"s0":912,"s1":928,"p":0.00005},
{"it":15,"s0":928,"s1":1024,"p":0.000003},
{"it":16,"s0":0,"s1":96,"p":0.000002},
{"it":16,"s0":96,"s1":112,"p":0.000049},{"it":16,"s0":112,"s1":128,"p":0.000116},{"it":16,"s0":128,"s1":144,"p":0.000251},{"it":16,"s0":144,"s1":160,"p":0.000495},{"it":16,"s0":160,"s1":176,"p":0.000888},{"it":16,"s0":176,"s1":192,"p":0.001446},{"it":16,"s0":192,"s1":208,"p":0.002136},{"it":16,"s0":208,"s1":224,"p":0.002862},{"it":16,"s0":224,"s1":240,"p":0.003478},{"it":16,"s0":240,"s1":256,"p":0.003835},
{"it":16,"s0":256,"s1":272,"p":0.003835},{"it":16,"s0":272,"s1":288,"p":0.003478},{"it":16,"s0":288,"s1":304,"p":0.002862},{"it":16,"s0":304,"s1":320,"p":0.002136},{"it":16,"s0":320,"s1":336,"p":0.001446},{"it":16,"s0":336,"s1":352,"p":0.000888},{"it":16,"s0":352,"s1":368,"p":0.000495},{"it":16,"s0":368,"s1":384,"p":0.000251},{"it":16,"s0":384,"s1":400,"p":0.000116},{"it":16,"s0":400,"s1":416,"p":0.000049},
{"it":16,"s0":416,"s1":608,"p":0.000002},
{"it":16,"s0":608,"s1":624,"p":0.000049},{"it":16,"s0":624,"s1":640,"p":0.000116},{"it":16,"s0":640,"s1":656,"p":0.000251},{"it":16,"s0":656,"s1":672,"p":0.000495},{"it":16,"s0":672,"s1":688,"p":0.000888},{"it":16,"s0":688,"s1":704,"p":0.001446},{"it":16,"s0":704,"s1":720,"p":0.002136},{"it":16,"s0":720,"s1":736,"p":0.002862},{"it":16,"s0":736,"s1":752,"p":0.003478},{"it":16,"s0":752,"s1":768,"p":0.003835},
{"it":16,"s0":768,"s1":784,"p":0.003835},{"it":16,"s0":784,"s1":800,"p":0.003478},{"it":16,"s0":800,"s1":816,"p":0.002862},{"it":16,"s0":816,"s1":832,"p":0.002136},{"it":16,"s0":832,"s1":848,"p":0.001446},{"it":16,"s0":848,"s1":864,"p":0.000888},{"it":16,"s0":864,"s1":880,"p":0.000495},{"it":16,"s0":880,"s1":896,"p":0.000251},{"it":16,"s0":896,"s1":912,"p":0.000116},{"it":16,"s0":912,"s1":928,"p":0.000049},
{"it":16,"s0":928,"s1":1024,"p":0.000002},
{"it":17,"s0":0,"s1":96,"p":0.000001},
{"it":17,"s0":96,"s1":112,"p":0.000048},{"it":17,"s0":112,"s1":128,"p":0.000115},{"it":17,"s0":128,"s1":144,"p":0.000251},{"it":17,"s0":144,"s1":160,"p":0.000495},{"it":17,"s0":160,"s1":176,"p":0.000889},{"it":17,"s0":176,"s1":192,"p":0.001448},{"it":17,"s0":192,"s1":208,"p":0.002139},{"it":17,"s0":208,"s1":224,"p":0.002867},{"it":17,"s0":224,"s1":240,"p":0.003484},{"it":17,"s0":240,"s1":256,"p":0.003842},
{"it":17,"s0":256,"s1":272,"p":0.003842},{"it":17,"s0":272,"s1":288,"p":0.003484},{"it":17,"s0":288,"s1":304,"p":0.002867},{"it":17,"s0":304,"s1":320,"p":0.002139},{"it":17,"s0":320,"s1":336,"p":0.001448},{"it":17,"s0":336,"s1":352,"p":0.000889},{"it":17,"s0":352,"s1":368,"p":0.000495},{"it":17,"s0":368,"s1":384,"p":0.000251},{"it":17,"s0":384,"s1":400,"p":0.000115},{"it":17,"s0":400,"s1":416,"p":0.000048},
{"it":17,"s0":416,"s1":608,"p":0.000001},
{"it":17,"s0":608,"s1":624,"p":0.000048},{"it":17,"s0":624,"s1":640,"p":0.000115},{"it":17,"s0":640,"s1":656,"p":0.000251},{"it":17,"s0":656,"s1":672,"p":0.000495},{"it":17,"s0":672,"s1":688,"p":0.000889},{"it":17,"s0":688,"s1":704,"p":0.001448},{"it":17,"s0":704,"s1":720,"p":0.002139},{"it":17,"s0":720,"s1":736,"p":0.002867},{"it":17,"s0":736,"s1":752,"p":0.003484},{"it":17,"s0":752,"s1":768,"p":0.003842},
{"it":17,"s0":768,"s1":784,"p":0.003842},{"it":17,"s0":784,"s1":800,"p":0.003484},{"it":17,"s0":800,"s1":816,"p":0.002867},{"it":17,"s0":816,"s1":832,"p":0.002139},{"it":17,"s0":832,"s1":848,"p":0.001448},{"it":17,"s0":848,"s1":864,"p":0.000889},{"it":17,"s0":864,"s1":880,"p":0.000495},{"it":17,"s0":880,"s1":896,"p":0.000251},{"it":17,"s0":896,"s1":912,"p":0.000115},{"it":17,"s0":912,"s1":928,"p":0.000048},
{"it":17,"s0":928,"s1":1024,"p":0.000001},
{"it":18,"s0":0,"s1":96,"p":0.0000005},
{"it":18,"s0":96,"s1":112,"p":0.000048},{"it":18,"s0":112,"s1":128,"p":0.000114},{"it":18,"s0":128,"s1":144,"p":0.00025},{"it":18,"s0":144,"s1":160,"p":0.000495},{"it":18,"s0":160,"s1":176,"p":0.000889},{"it":18,"s0":176,"s1":192,"p":0.001449},{"it":18,"s0":192,"s1":208,"p":0.002141},{"it":18,"s0":208,"s1":224,"p":0.00287},{"it":18,"s0":224,"s1":240,"p":0.003487},{"it":18,"s0":240,"s1":256,"p":0.003846},
{"it":18,"s0":256,"s1":272,"p":0.003846},{"it":18,"s0":272,"s1":288,"p":0.003487},{"it":18,"s0":288,"s1":304,"p":0.00287},{"it":18,"s0":304,"s1":320,"p":0.002141},{"it":18,"s0":320,"s1":336,"p":0.001449},{"it":18,"s0":336,"s1":352,"p":0.000889},{"it":18,"s0":352,"s1":368,"p":0.000495},{"it":18,"s0":368,"s1":384,"p":0.00025},{"it":18,"s0":384,"s1":400,"p":0.000114},{"it":18,"s0":400,"s1":416,"p":0.000048},
{"it":18,"s0":416,"s1":608,"p":0.0000005},
{"it":18,"s0":608,"s1":624,"p":0.000048},{"it":18,"s0":624,"s1":640,"p":0.000114},{"it":18,"s0":640,"s1":656,"p":0.00025},{"it":18,"s0":656,"s1":672,"p":0.000495},{"it":18,"s0":672,"s1":688,"p":0.000889},{"it":18,"s0":688,"s1":704,"p":0.001449},{"it":18,"s0":704,"s1":720,"p":0.002141},{"it":18,"s0":720,"s1":736,"p":0.00287},{"it":18,"s0":736,"s1":752,"p":0.003487},{"it":18,"s0":752,"s1":768,"p":0.003846},
{"it":18,"s0":768,"s1":784,"p":0.003846},{"it":18,"s0":784,"s1":800,"p":0.003487},{"it":18,"s0":800,"s1":816,"p":0.00287},{"it":18,"s0":816,"s1":832,"p":0.002141},{"it":18,"s0":832,"s1":848,"p":0.001449},{"it":18,"s0":848,"s1":864,"p":0.000889},{"it":18,"s0":864,"s1":880,"p":0.000495},{"it":18,"s0":880,"s1":896,"p":0.00025},{"it":18,"s0":896,"s1":912,"p":0.000114},{"it":18,"s0":912,"s1":928,"p":0.000048},
{"it":18,"s0":928,"s1":1024,"p":0.0000005},
{"it":19,"s0":0,"s1":96,"p":0.0000003},
{"it":19,"s0":96,"s1":112,"p":0.000048},{"it":19,"s0":112,"s1":128,"p":0.000115},{"it":19,"s0":128,"s1":144,"p":0.00025},{"it":19,"s0":144,"s1":160,"p":0.000495},{"it":19,"s0":160,"s1":176,"p":0.000889},{"it":19,"s0":176,"s1":192,"p":0.00145},{"it":19,"s0":192,"s1":208,"p":0.002142},{"it":19,"s0":208,"s1":224,"p":0.002872},{"it":19,"s0":224,"s1":240,"p":0.00349},{"it":19,"s0":240,"s1":256,"p":0.003849},
{"it":19,"s0":256,"s1":272,"p":0.003849},{"it":19,"s0":272,"s1":288,"p":0.00349},{"it":19,"s0":288,"s1":304,"p":0.002872},{"it":19,"s0":304,"s1":320,"p":0.002142},{"it":19,"s0":320,"s1":336,"p":0.00145},{"it":19,"s0":336,"s1":352,"p":0.000889},{"it":19,"s0":352,"s1":368,"p":0.000495},{"it":19,"s0":368,"s1":384,"p":0.00025},{"it":19,"s0":384,"s1":400,"p":0.000115},{"it":19,"s0":400,"s1":416,"p":0.000048},
{"it":19,"s0":416,"s1":608,"p":0.0000003},
{"it":19,"s0":608,"s1":624,"p":0.000048},{"it":19,"s0":624,"s1":640,"p":0.000115},{"it":19,"s0":640,"s1":656,"p":0.00025},{"it":19,"s0":656,"s1":672,"p":0.000495},{"it":19,"s0":672,"s1":688,"p":0.000889},{"it":19,"s0":688,"s1":704,"p":0.00145},{"it":19,"s0":704,"s1":720,"p":0.002142},{"it":19,"s0":720,"s1":736,"p":0.002872},{"it":19,"s0":736,"s1":752,"p":0.00349},{"it":19,"s0":752,"s1":768,"p":0.003849},
{"it":19,"s0":768,"s1":784,"p":0.003849},{"it":19,"s0":784,"s1":800,"p":0.00349},{"it":19,"s0":800,"s1":816,"p":0.002872},{"it":19,"s0":816,"s1":832,"p":0.002142},{"it":19,"s0":832,"s1":848,"p":0.00145},{"it":19,"s0":848,"s1":864,"p":0.000889},{"it":19,"s0":864,"s1":880,"p":0.000495},{"it":19,"s0":880,"s1":896,"p":0.00025},{"it":19,"s0":896,"s1":912,"p":0.000115},{"it":19,"s0":912,"s1":928,"p":0.000048},
{"it":19,"s0":928,"s1":1024,"p":0.0000003}
],
"curve":[
{"s":"Expected","x":-10,"p":0},{"s":"Expected","x":-9.5,"p":0.0000002},{"s":"Expected","x":-9,"p":0.0000013},{"s":"Expected","x":-8.75,"p":0.0000034},{"s":"Expected","x":-8.5,"p":0.0000086},{"s":"Expected","x":-8.25,"p":0.0000198},{"s":"Expected","x":-8,"p":0.0000432},{"s":"Expected","x":-7.75,"p":0.0000887},{"s":"Expected","x":-7.5,"p":0.000171},{"s":"Expected","x":-7.25,"p":0.00031},{"s":"Expected","x":-7,"p":0.000526},{"s":"Expected","x":-6.75,"p":0.000841},{"s":"Expected","x":-6.5,"p":0.001263},{"s":"Expected","x":-6.25,"p":0.001781},{"s":"Expected","x":-6,"p":0.002359},{"s":"Expected","x":-5.75,"p":0.002936},{"s":"Expected","x":-5.5,"p":0.003433},{"s":"Expected","x":-5.25,"p":0.00377},{"s":"Expected","x":-5,"p":0.00389},{"s":"Expected","x":-4.75,"p":0.00377},{"s":"Expected","x":-4.5,"p":0.003433},{"s":"Expected","x":-4.25,"p":0.002936},{"s":"Expected","x":-4,"p":0.002359},{"s":"Expected","x":-3.75,"p":0.001781},{"s":"Expected","x":-3.5,"p":0.001263},{"s":"Expected","x":-3.25,"p":0.000841},{"s":"Expected","x":-3,"p":0.000526},{"s":"Expected","x":-2.75,"p":0.00031},{"s":"Expected","x":-2.5,"p":0.000171},{"s":"Expected","x":-2.25,"p":0.0000887},{"s":"Expected","x":-2,"p":0.0000432},{"s":"Expected","x":-1.75,"p":0.0000198},{"s":"Expected","x":-1.5,"p":0.0000086},{"s":"Expected","x":-1.25,"p":0.0000034},{"s":"Expected","x":-1,"p":0.0000013},{"s":"Expected","x":-0.5,"p":0.0000002},{"s":"Expected","x":0,"p":0},
{"s":"Expected","x":0.5,"p":0.0000002},{"s":"Expected","x":1,"p":0.0000013},{"s":"Expected","x":1.25,"p":0.0000034},{"s":"Expected","x":1.5,"p":0.0000086},{"s":"Expected","x":1.75,"p":0.0000198},{"s":"Expected","x":2,"p":0.0000432},{"s":"Expected","x":2.25,"p":0.0000887},{"s":"Expected","x":2.5,"p":0.000171},{"s":"Expected","x":2.75,"p":0.00031},{"s":"Expected","x":3,"p":0.000526},{"s":"Expected","x":3.25,"p":0.000841},{"s":"Expected","x":3.5,"p":0.001263},{"s":"Expected","x":3.75,"p":0.001781},{"s":"Expected","x":4,"p":0.002359},{"s":"Expected","x":4.25,"p":0.002936},{"s":"Expected","x":4.5,"p":0.003433},{"s":"Expected","x":4.75,"p":0.00377},{"s":"Expected","x":5,"p":0.00389},{"s":"Expected","x":5.25,"p":0.00377},{"s":"Expected","x":5.5,"p":0.003433},{"s":"Expected","x":5.75,"p":0.002936},{"s":"Expected","x":6,"p":0.002359},{"s":"Expected","x":6.25,"p":0.001781},{"s":"Expected","x":6.5,"p":0.001263},{"s":"Expected","x":6.75,"p":0.000841},{"s":"Expected","x":7,"p":0.000526},{"s":"Expected","x":7.25,"p":0.00031},{"s":"Expected","x":7.5,"p":0.000171},{"s":"Expected","x":7.75,"p":0.0000887},{"s":"Expected","x":8,"p":0.0000432},{"s":"Expected","x":8.25,"p":0.0000198},{"s":"Expected","x":8.5,"p":0.0000086},{"s":"Expected","x":8.75,"p":0.0000034},{"s":"Expected","x":9,"p":0.0000013},{"s":"Expected","x":9.5,"p":0.0000002},{"s":"Expected","x":10,"p":0},
{"s":"Obtained","x":-10,"p":0},{"s":"Obtained","x":-9.5,"p":0.0000002},{"s":"Obtained","x":-9,"p":0.0000013},{"s":"Obtained","x":-8.75,"p":0.0000034},{"s":"Obtained","x":-8.5,"p":0.0000086},{"s":"Obtained","x":-8.25,"p":0.0000198},{"s":"Obtained","x":-8,"p":0.0000432},{"s":"Obtained","x":-7.75,"p":0.0000887},{"s":"Obtained","x":-7.5,"p":0.000171},{"s":"Obtained","x":-7.25,"p":0.00031},{"s":"Obtained","x":-7,"p":0.000526},{"s":"Obtained","x":-6.75,"p":0.000841},{"s":"Obtained","x":-6.5,"p":0.001263},{"s":"Obtained","x":-6.25,"p":0.001781},{"s":"Obtained","x":-6,"p":0.002359},{"s":"Obtained","x":-5.75,"p":0.002936},{"s":"Obtained","x":-5.5,"p":0.003433},{"s":"Obtained","x":-5.25,"p":0.00377},{"s":"Obtained","x":-5,"p":0.00389},{"s":"Obtained","x":-4.75,"p":0.00377},{"s":"Obtained","x":-4.5,"p":0.003433},{"s":"Obtained","x":-4.25,"p":0.002936},{"s":"Obtained","x":-4,"p":0.002359},{"s":"Obtained","x":-3.75,"p":0.001781},{"s":"Obtained","x":-3.5,"p":0.001263},{"s":"Obtained","x":-3.25,"p":0.000841},{"s":"Obtained","x":-3,"p":0.000526},{"s":"Obtained","x":-2.75,"p":0.00031},{"s":"Obtained","x":-2.5,"p":0.000171},{"s":"Obtained","x":-2.25,"p":0.0000887},{"s":"Obtained","x":-2,"p":0.0000432},{"s":"Obtained","x":-1.75,"p":0.0000198},{"s":"Obtained","x":-1.5,"p":0.0000086},{"s":"Obtained","x":-1.25,"p":0.0000034},{"s":"Obtained","x":-1,"p":0.0000013},{"s":"Obtained","x":-0.5,"p":0.0000002},{"s":"Obtained","x":0,"p":0},
{"s":"Obtained","x":0.5,"p":0.0000002},{"s":"Obtained","x":1,"p":0.0000013},{"s":"Obtained","x":1.25,"p":0.0000034},{"s":"Obtained","x":1.5,"p":0.0000086},{"s":"Obtained","x":1.75,"p":0.0000198},{"s":"Obtained","x":2,"p":0.0000432},{"s":"Obtained","x":2.25,"p":0.0000887},{"s":"Obtained","x":2.5,"p":0.000171},{"s":"Obtained","x":2.75,"p":0.00031},{"s":"Obtained","x":3,"p":0.000526},{"s":"Obtained","x":3.25,"p":0.000841},{"s":"Obtained","x":3.5,"p":0.001263},{"s":"Obtained","x":3.75,"p":0.001781},{"s":"Obtained","x":4,"p":0.002359},{"s":"Obtained","x":4.25,"p":0.002936},{"s":"Obtained","x":4.5,"p":0.003433},{"s":"Obtained","x":4.75,"p":0.00377},{"s":"Obtained","x":5,"p":0.00389},{"s":"Obtained","x":5.25,"p":0.00377},{"s":"Obtained","x":5.5,"p":0.003433},{"s":"Obtained","x":5.75,"p":0.002936},{"s":"Obtained","x":6,"p":0.002359},{"s":"Obtained","x":6.25,"p":0.001781},{"s":"Obtained","x":6.5,"p":0.001263},{"s":"Obtained","x":6.75,"p":0.000841},{"s":"Obtained","x":7,"p":0.000526},{"s":"Obtained","x":7.25,"p":0.00031},{"s":"Obtained","x":7.5,"p":0.000171},{"s":"Obtained","x":7.75,"p":0.0000887},{"s":"Obtained","x":8,"p":0.0000432},{"s":"Obtained","x":8.25,"p":0.0000198},{"s":"Obtained","x":8.5,"p":0.0000086},{"s":"Obtained","x":8.75,"p":0.0000034},{"s":"Obtained","x":9,"p":0.0000013},{"s":"Obtained","x":9.5,"p":0.0000002},{"s":"Obtained","x":10,"p":0}
]
},
"hconcat":[
{
"width":243,"height":314,
"view":{"stroke":"#000000","strokeWidth":2},
"data":{"name":"heat"},
"mark":{"type":"rect","strokeWidth":0.6},
"encoding":{
"x":{"field":"it","type":"ordinal","scale":{"domain":[0,1,2,3,4,5,6,7,8,9,10,11,12,13,14,15,16,17,18,19],"paddingInner":0,"paddingOuter":0},"axis":{"values":[0,5,10,15],"labelAngle":0,"title":"N. Iterations"}},
"y":{"field":"s0","type":"quantitative","scale":{"domain":[0,1024],"reverse":true,"nice":false,"zero":false},"axis":{"values":[0,200,400,600,800,1000],"format":"d","title":"State"}},
"y2":{"field":"s1"},
"color":{"field":"p","type":"quantitative","scale":{"type":"linear","domain":[0,0.000487,0.000974,0.001461,0.001948,0.002435,0.002922,0.003409,0.003896],"range":["#ffffd9","#edf8b1","#c7e9b4","#7fcdbb","#41b6c4","#1d91c0","#225ea8","#253494","#081d58"],"interpolate":"rgb","clamp":true},"legend":null},
"stroke":{"field":"p","type":"quantitative","scale":{"type":"linear","domain":[0,0.000487,0.000974,0.001461,0.001948,0.002435,0.002922,0.003409,0.003896],"range":["#ffffd9","#edf8b1","#c7e9b4","#7fcdbb","#41b6c4","#1d91c0","#225ea8","#253494","#081d58"],"interpolate":"rgb","clamp":true},"legend":null}
}
},
{
"width":122,"height":314,
"view":{"stroke":"#000000","strokeWidth":1.1},
"data":{"name":"curve"},
"mark":{"type":"line","strokeWidth":2,"color":"#000000"},
"encoding":{
"x":{"field":"p","type":"quantitative","scale":{"domain":[-0.000185,0.00407],"nice":false,"zero":false},"axis":{"values":[0,0.0025],"format":".4f","title":"Probability"}},
"y":{"field":"x","type":"quantitative","scale":{"domain":[-11,11],"reverse":true,"nice":false,"zero":false},"axis":{"values":[-10,-7.5,-5,-2.5,0,2.5,5,7.5,10],"format":".1f","title":null}},
"order":{"field":"x","type":"quantitative"},
"strokeDash":{"field":"s","type":"nominal","scale":{"domain":["Expected","Obtained"],"range":[[7.7,3.3],[1,0]]},"legend":{"title":null,"orient":"top-right","offset":6,"fillColor":"rgba(255,255,255,0.8)","strokeColor":"#cccccc","cornerRadius":3,"padding":6,"symbolType":"M-2,0H2","symbolSize":144,"symbolOffset":6,"symbolStrokeColor":"#000000","symbolStrokeWidth":2,"symbolFillColor":"transparent","labelOffset":15,"labelFontSize":11.6,"labelColor":"#000000","labelFont":"DejaVu Sans","rowPadding":4}}
}
}
]
}
